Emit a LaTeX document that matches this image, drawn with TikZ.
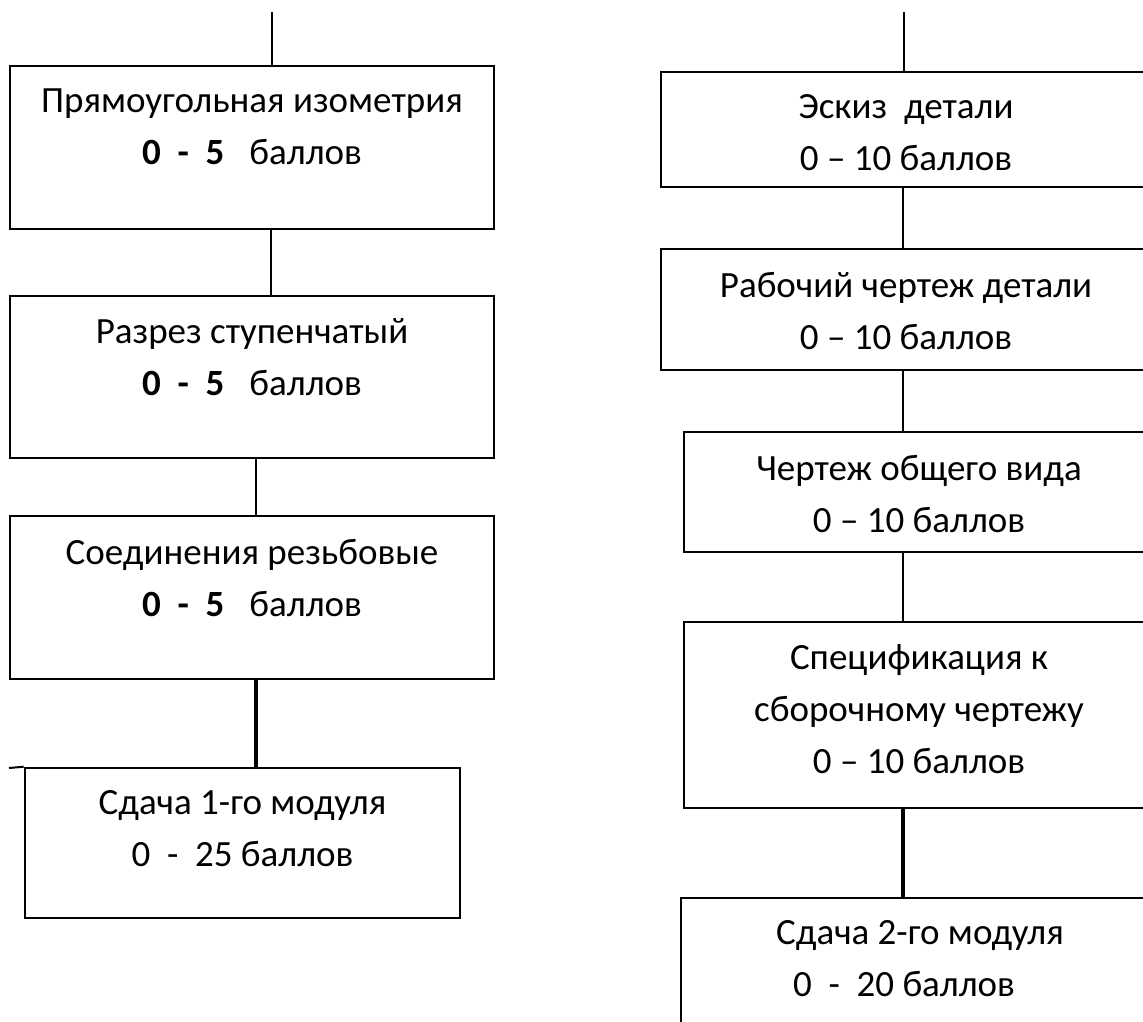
\documentclass[tikz,border=0pt]{standalone}
\usepackage{fontspec}
\setmainfont{Carlito}
\usetikzlibrary{positioning}

\begin{document}
\begin{tikzpicture}[x=1pt,y=-1pt,
      blk/.style={rectangle, draw, line width=2.6pt, inner sep=0pt},
      lbl/.style={align=center, inner sep=0pt, font=\fontsize{37}{52}\selectfont, execute at begin node={\rule{0pt}{36pt}}},
      link/.style={line width=2pt},
      heavy/.style={line width=4pt}]
      \useasboundingbox (0,0) rectangle (1143,1021);
      \clip (0,0) rectangle (1143,1021);
      % left column
      \node[blk, minimum width=484pt, minimum height=163pt] at (252,147.5) (izo) {};
      \node[blk, minimum width=484pt, minimum height=162pt] at (252,377) (razr) {};
      \node[blk, minimum width=484pt, minimum height=163pt] at (252,597.5) (soed) {};
      \node[blk, minimum width=435pt, minimum height=150pt] at (242.5,843) (mod1) {};
      \node[lbl, below=24pt of izo.north] (izoT) {Прямоугольная изометрия\\ \textbf{0\ \ -\ \ 5}\ \ \ баллов};
      \node[lbl, below=24pt of razr.north] (razrT) {Разрез ступенчатый\\ \textbf{0\ \ -\ \ 5}\ \ \ баллов};
      \node[lbl, below=24pt of soed.north] (soedT) {Соединения резьбовые\\ \textbf{0\ \ -\ \ 5}\ \ \ баллов};
      \node[lbl, below=24pt of mod1.north] (mod1T) {Сдача 1-го модуля\\ 0\ \ -\ \ 25 баллов};
      % right column
      \node[blk, minimum width=490pt, minimum height=115pt] at (906,129.5) (eskiz) {};
      \node[blk, minimum width=490pt, minimum height=121pt] at (906,309.5) (rab) {};
      \node[blk, minimum width=470pt, minimum height=120pt] at (919,492) (obsh) {};
      \node[blk, minimum width=470pt, minimum height=186pt] at (919,715) (spec) {};
      \node[blk, minimum width=478pt, minimum height=142pt] at (920,969) (mod2) {};
      \node[lbl, below=24pt of eskiz.north] (eskizT) {Эскиз\ \ детали\\ 0 – 10 баллов};
      \node[lbl, below=24pt of rab.north] (rabT) {Рабочий чертеж детали\\ 0 – 10 баллов};
      \node[lbl, below=24pt of obsh.north] (obshT) {Чертеж общего вида\\ 0 – 10 баллов};
      \node[lbl, below=24pt of spec.north] (specT) {Спецификация к\\ сборочному чертежу\\ 0 – 10 баллов};
      \node[lbl, below=24pt of mod2.north] (mod2T) {Сдача 2-го модуля\\ 0\ \ -\ \ 20 баллов\hspace*{32pt}};
      \coordinate (lTop) at (272,12);
      \coordinate (rTop) at (904,12);
      \coordinate (mod1L) at (9,768);
      \draw[link] (lTop) -- (lTop |- izo.north);
      \draw[link] ([xshift=19pt]izo.south) -- ([xshift=19pt]izo.south |- razr.north);
      \draw[link] ([xshift=4pt]razr.south) -- ([xshift=4pt]razr.south |- soed.north);
      \draw[heavy] ([xshift=4pt]soed.south) -- ([xshift=4pt]soed.south |- mod1.north);
      \draw[link] (mod1L) -- (mod1.north west);
      \draw[link] (rTop) -- (rTop |- eskiz.north);
      \draw[link] ([xshift=-3pt]eskiz.south) -- ([xshift=-3pt]eskiz.south |- rab.north);
      \draw[link] ([xshift=-3pt]rab.south) -- ([xshift=-3pt]rab.south |- obsh.north);
      \draw[link] ([xshift=-16pt]obsh.south) -- ([xshift=-16pt]obsh.south |- spec.north);
      \draw[heavy] ([xshift=-16pt]spec.south) -- ([xshift=-16pt]spec.south |- mod2.north);
\end{tikzpicture}
\end{document}
